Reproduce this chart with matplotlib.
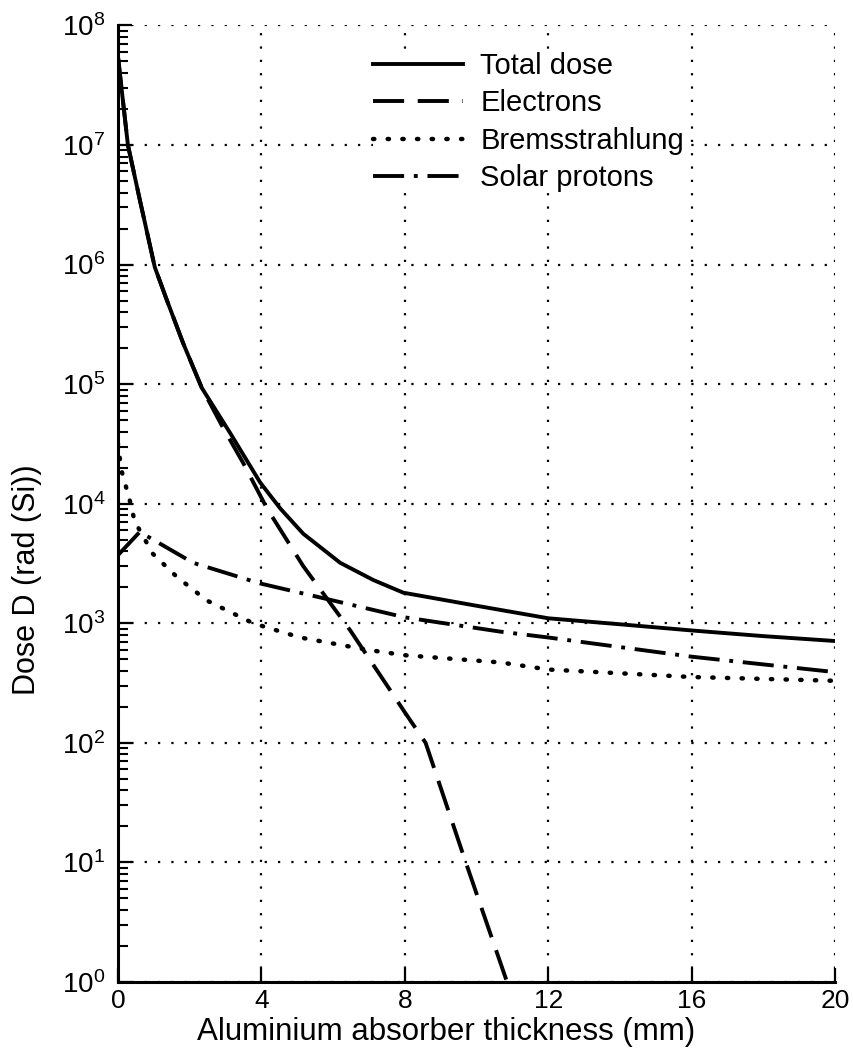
import numpy as np
import matplotlib
matplotlib.use("Agg")
import matplotlib.pyplot as plt

plt.rcParams['font.family'] = ['Liberation Sans', 'DejaVu Sans']

# dose curves (x in mm, dose in rad(Si))
x_total = [0, 0.28, 0.61, 1.03, 1.37, 1.82, 2.34, 3.13, 3.97, 4.53, 5.17, 6.2, 7.12, 7.96, 10.0, 12, 14, 16, 18, 20]
d_total = [5.6e7, 1e7, 3.5e6, 9.5e5, 5.0e5, 2.2e5, 9.3e4, 3.9e4, 1.5e4, 9.1e3, 5.6e3, 3.2e3, 2.3e3, 1.8e3, 1.4e3, 1.1e3, 980, 870, 780, 710]

x_elec = [0, 0.28, 0.61, 1.03, 1.37, 1.82, 2.34, 2.9, 3.49, 4.16, 5.17, 6.48, 7.51, 8.0, 8.58, 9.7, 10.85]
d_elec = [5.6e7, 1e7, 3.5e6, 9.5e5, 5.0e5, 2.2e5, 9.3e4, 4.5e4, 2.2e4, 9.1e3, 3.0e3, 870, 300, 180, 100, 10, 1]

x_brem = [0, 0.1, 0.33, 0.47, 0.98, 1.64, 2.48, 3.77, 5.08, 6.95, 8.0, 10.67, 12, 16, 20]
d_brem = [3.2e4, 1.9e4, 1.07e4, 7.1e3, 3.8e3, 2.45e3, 1.55e3, 1.0e3, 760, 600, 540, 470, 410, 355, 330]

x_prot = [0, 0.61, 2.1, 3.97, 6.0, 8.0, 10.67, 12, 16, 20]
d_prot = [3.7e3, 5.8e3, 3.2e3, 2.15e3, 1.55e3, 1.12e3, 850, 760, 525, 390]

labels = ['Total dose', 'Electrons', 'Bremsstrahlung', 'Solar protons']
xticks = [0, 4, 8, 12, 16, 20]

fig = plt.figure(figsize=(8.54, 10.57), dpi=100)
ax = fig.add_axes([0.138, 0.071, 0.840, 0.905])

lw = 2.8
ax.plot(x_total, d_total, color='k', lw=lw, label=labels[0])
ax.plot(x_elec, d_elec, color='k', lw=lw, linestyle=(0, (8, 3.5)), label=labels[1])
ax.plot(x_brem, d_brem, color='k', lw=3.2, linestyle=(0, (0.3, 3)),
        dash_capstyle='round', label=labels[2])
ax.plot(x_prot, d_prot, color='k', lw=lw, linestyle=(0, (8, 2.5, 1, 2.5)), label=labels[3])

ax.set_yscale('log')
ax.set_xlim(0, 20)
ax.set_ylim(1, 1e8)
ax.set_xticks(xticks)
ax.set_yticks([10.0**k for k in range(0, 9)])

ax.grid(True, which='major', color='k', linestyle=(0, (1, 5)), linewidth=1.6)
for s in ['top', 'right']:
    ax.spines[s].set_visible(False)
for s in ['left', 'bottom']:
    ax.spines[s].set_linewidth(2.2)

ax.tick_params(axis='both', which='major', direction='in', length=10, width=1.6,
               labelsize=19, pad=5)
ax.tick_params(axis='y', which='major', labelsize=20, pad=9)
ax.tick_params(axis='y', which='minor', direction='in', length=7, width=1.5)
ax.tick_params(axis='x', which='minor', bottom=False)

ax.set_xlabel('Aluminium absorber thickness (mm)', fontsize=22.5)
ax.xaxis.set_label_coords(0.457, -0.037)
ax.set_ylabel('Dose D (rad (Si))', fontsize=22)
ax.yaxis.set_label_coords(-0.106, 0.42)

leg = ax.legend(loc='upper left', bbox_to_anchor=(0.355, 0.972), fontsize=21,
                frameon=True, framealpha=1, edgecolor='white', facecolor='white',
                handlelength=3.1, handletextpad=0.6, labelspacing=0.32,
                borderpad=0.0, borderaxespad=0.0)
leg.get_frame().set_linewidth(0)

fig.savefig('out.png', dpi=100)
